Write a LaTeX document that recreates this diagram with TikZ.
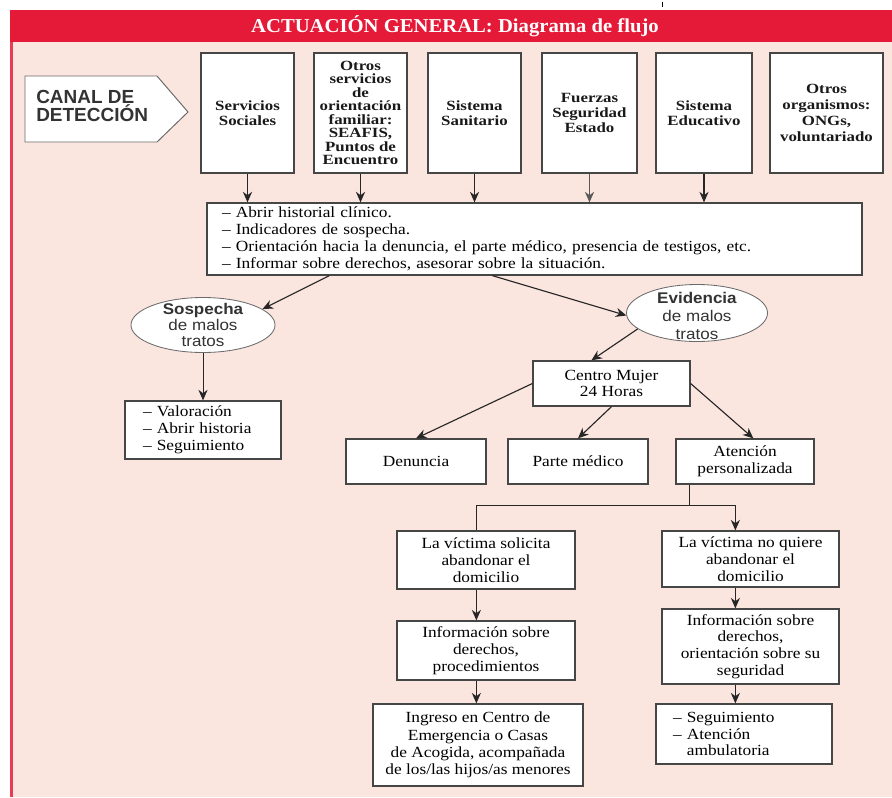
\documentclass[tikz,border=0pt]{standalone}
\usepackage{fontspec}
\setmainfont{Liberation Serif}
\newfontfamily\lowfont[FakeStretch=1.12]{Liberation Serif}
\newfontfamily\topfont[FakeStretch=1.2]{Liberation Serif}
\newfontfamily\elfont[FakeStretch=1.1]{Liberation Sans}
\newfontfamily\canalfont{Liberation Sans}
\newfontfamily\titlefont[FakeStretch=1.05]{Liberation Serif}
\usetikzlibrary{arrows.meta,shapes.geometric}
\definecolor{pinkbg}{RGB}{251,229,223}
\definecolor{redhead}{RGB}{228,26,56}
\definecolor{edgec}{RGB}{70,70,70}
\newcommand\bx[7][]{\node[#1, minimum width={(#5-#3)*0.025cm}, minimum height={(#6-#4)*0.025cm}] (#2) at ({(#3+#5)/2},{(#4+#6)/2}) {#7};}
\begin{document}
\begin{tikzpicture}[x=0.025cm,y=-0.025cm,
  box/.style={draw=edgec, line width=0.9pt, fill=white, inner sep=1pt, align=center},
  topbox/.style={box, font=\topfont\bfseries\fontsize{10}{10.4}\selectfont, text=black!90},
  lowbox/.style={box, font=\lowfont\fontsize{11}{11.9}\selectfont},
  listbox/.style={lowbox, align=left},
  elbox/.style={ellipse, draw=edgec!80, line width=0.6pt, fill=white, inner sep=0pt},
  eltext/.style={align=center, inner sep=0pt, text=black!80, font=\elfont\fontsize{11}{11.3}\selectfont},
  arr/.style={-{Stealth[length=7.5pt,width=6.5pt]}, line width=0.8pt, draw=black!85},
  plain/.style={line width=0.8pt, draw=black!85}]
\useasboundingbox (0,0) rectangle (892,797);
% background
\fill[white] (0,0) rectangle (892,797);
\fill[pinkbg] (10,42) rectangle (892,797);
\fill[redhead] (10,9.5) rectangle (892,42);
\fill[redhead!85] (10,42) rectangle (12.5,797);
\draw[black, line width=0.6pt] (662,2) -- (662,7);
\node[text=white, font=\titlefont\bfseries\fontsize{14}{14}\selectfont] (title) at (455,26) {ACTUACIÓN GENERAL: Diagrama de flujo};
% canal
\filldraw[fill=white, draw=edgec!80, line width=0.7pt] (25,76) -- (157,76) -- (188,112) -- (157,142) -- (25,142) -- cycle;
\node[anchor=west, align=left, inner sep=0pt, text=black!80, font=\canalfont\bfseries\fontsize{13.5}{12.8}\selectfont] (canal) at (36,106) {CANAL DE\\DETECCIÓN};
% top boxes
\bx[topbox]{b1}{201}{53}{294}{173}{Servicios\\Sociales}
\bx[topbox, font=\topfont\bfseries\fontsize{10}{9.6}\selectfont]{b2}{314}{53}{407}{173}{Otros\\servicios\\de\\orientación\\familiar:\\SEAFIS,\\Puntos de\\Encuentro}
\bx[topbox]{b3}{428}{53}{521}{173}{Sistema\\Sanitario}
\bx[topbox]{b4}{542}{53}{637}{173}{Fuerzas\\Seguridad\\Estado}
\bx[topbox]{b5}{656}{53}{752}{173}{Sistema\\Educativo}
\bx[topbox, font=\topfont\bfseries\fontsize{10}{11.5}\selectfont]{b6}{770}{53}{883}{173}{Otros\\organismos:\\ONGs,\\voluntariado}
% list box
\bx[listbox, text width={625*0.025cm}, inner xsep={15*0.025cm}, font=\lowfont\fontsize{11}{12.2}\selectfont]{lst}{207}{203}{862}{275}{– Abrir historial clínico.\\– Indicadores de sospecha.\\– Orientación hacia la denuncia, el parte médico, presencia de testigos, etc.\\– Informar sobre derechos, asesorar sobre la situación.}
\foreach \b in {b1,b2,b3,b5}{\draw[arr] (\b.south) -- (\b.south |- lst.north);}
\draw[arr, line width=0.6pt, draw=black!65] (b4.south) -- (b4.south |- lst.north);
% ellipses
\node[elbox, minimum width={144*0.025cm}, minimum height={55*0.025cm}] (sos) at (203,325) {};
\node[eltext] (sost) at (sos.center) {\textbf{Sospecha}\\de malos\\tratos};
\node[elbox, minimum width={141*0.025cm}, minimum height={57*0.025cm}] (evi) at (697,313) {};
\node[eltext, font=\elfont\fontsize{11}{12.5}\selectfont] (evit) at ([yshift={-3*0.025cm}]evi.center) {\textbf{Evidencia}\\de malos\\tratos};
\path (lst.south west) ++(123,0) coordinate (l1);
\path (lst.south west) ++(286,0) coordinate (l2);
\draw[arr] (l1) -- (sos.15);
\draw[arr] (l2) -- (evi.182);
% left branch
\bx[listbox, text width={120*0.025cm}, inner xsep={18*0.025cm}, font=\lowfont\fontsize{11}{12.2}\selectfont]{val}{125}{401}{281}{459}{– Valoración\\– Abrir historia\\– Seguimiento}
\draw[arr, line width=0.6pt] (sos.south) -- (sos.south |- val.north);
% centro
\bx[lowbox]{cen}{533}{361}{690}{406}{Centro Mujer\\24 Horas}
\path (cen.north west) ++(59,0) coordinate (c1);
\draw[arr] (evi.195) -- (c1);
\bx[lowbox]{den}{346}{439}{486}{484}{Denuncia}
\bx[lowbox]{par}{508}{439}{648}{484}{Parte médico}
\bx[lowbox]{ate}{676}{439}{814}{484}{Atención\\personalizada}
\path (ate.north west) ++(78,0) coordinate (a1);
\draw[arr] (cen.west) -- (den.north);
\draw[arr] (cen.south) -- (par.north);
\draw[arr] (cen.east) -- (a1);
% lower
\bx[lowbox]{lb}{397}{531}{575}{589}{La víctima solicita\\abandonar el\\domicilio}
\bx[lowbox]{rb}{662}{531}{839}{587}{La víctima no quiere\\abandonar el\\domicilio}
\bx[lowbox]{li}{397}{621}{575}{680}{Información sobre\\derechos,\\procedimientos}
\bx[lowbox]{ri}{662}{609}{839}{684}{Información sobre\\derechos,\\orientación sobre su\\seguridad}
\bx[lowbox, font=\lowfont\fontsize{11}{12.4}\selectfont]{lc}{373}{704}{583}{786}{Ingreso en Centro de\\Emergencia o Casas\\de Acogida, acompañada\\de los/las hijos/as menores}
\bx[listbox, text width={142*0.025cm}, inner xsep={17*0.025cm}]{rc}{656}{704}{832}{764}{– Seguimiento\\– Atención\\\phantom{– }ambulatoria}
\path (ate.south west) ++(14,0) coordinate (a2);
\path (a2) ++(0,21) coordinate (j);
\path (lb.north west) ++(80,0) coordinate (lt);
\path (rb.north west) ++(74,0) coordinate (rt);
\draw[plain] (a2) -- (j);
\draw[plain] (j) -| (lt);
\draw[arr] (j) -| (rt);
\path (lb.south west) ++(80,0) coordinate (lb1);
\path (li.south west) ++(80,0) coordinate (li1);
\path (rb.south west) ++(74,0) coordinate (rb1);
\path (ri.south west) ++(74,0) coordinate (ri1);
\draw[arr] (lb1) -- (lb1 |- li.north);
\draw[arr] (li1) -- (li1 |- lc.north);
\draw[arr] (rb1) -- (rb1 |- ri.north);
\draw[arr] (ri1) -- (ri1 |- rc.north);
\end{tikzpicture}
\end{document}
